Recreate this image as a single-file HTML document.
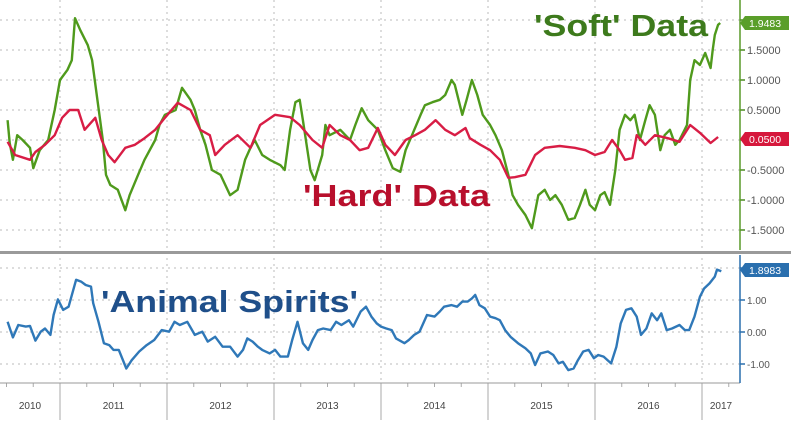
<!DOCTYPE html>
<html><head><meta charset="utf-8"><style>
html,body{margin:0;padding:0;background:#fff;}
svg{display:block;font-family:"Liberation Sans",sans-serif;}
</style></head><body>
<svg id="chart" width="791" height="424" viewBox="0 0 791 424">
<g id="grid"></g>
<g id="series"></g>
<g id="axes"></g>
<text x="534" y="36" font-size="31" font-weight="bold" fill="#3d7a1c" textLength="174" lengthAdjust="spacingAndGlyphs">'Soft' Data</text>
<text x="303" y="206" font-size="31" font-weight="bold" fill="#b80f2c" textLength="187" lengthAdjust="spacingAndGlyphs">'Hard' Data</text>
<text x="101" y="312" font-size="31" font-weight="bold" fill="#1f4f8a" textLength="257" lengthAdjust="spacingAndGlyphs">'Animal Spirits'</text>
</svg>
<script>
const softDates=[2010.51,2010.53,2010.56,2010.60,2010.65,2010.72,2010.75,2010.81,2010.89,2010.95,2011.00,2011.07,2011.11,2011.14,2011.19,2011.26,2011.30,2011.35,2011.40,2011.43,2011.47,2011.54,2011.61,2011.65,2011.73,2011.79,2011.89,2011.93,2011.98,2012.08,2012.14,2012.22,2012.26,2012.31,2012.36,2012.42,2012.50,2012.59,2012.66,2012.73,2012.78,2012.82,2012.89,2012.96,2013.06,2013.10,2013.15,2013.20,2013.24,2013.27,2013.34,2013.38,2013.45,2013.48,2013.52,2013.62,2013.71,2013.76,2013.82,2013.88,2013.97,2014.04,2014.11,2014.18,2014.23,2014.29,2014.37,2014.41,2014.48,2014.55,2014.60,2014.66,2014.69,2014.76,2014.80,2014.85,2014.90,2014.95,2015.02,2015.07,2015.13,2015.19,2015.23,2015.28,2015.35,2015.41,2015.47,2015.53,2015.58,2015.63,2015.69,2015.75,2015.81,2015.86,2015.91,2015.95,2016.00,2016.05,2016.09,2016.14,2016.19,2016.23,2016.28,2016.33,2016.37,2016.42,2016.47,2016.51,2016.56,2016.61,2016.65,2016.70,2016.75,2016.79,2016.86,2016.89,2016.93,2016.98,2017.03,2017.08,2017.10,2017.12,2017.15,2017.17];
const softValues=[0.33,-0.05,-0.33,0.08,0,-0.13,-0.47,-0.17,0,0.5,1.0,1.17,1.33,2.03,1.83,1.58,1.33,0.67,0,-0.58,-0.75,-0.83,-1.17,-0.92,-0.58,-0.33,0,0.25,0.42,0.5,0.87,0.67,0.5,0.17,-0.08,-0.5,-0.58,-0.92,-0.83,-0.33,-0.13,0,-0.25,-0.33,-0.42,-0.5,0.17,0.63,0.67,0.33,-0.5,-0.67,-0.25,0.25,0.08,0.17,0,0.25,0.53,0.33,0.17,-0.17,-0.47,-0.53,-0.17,0.08,0.42,0.58,0.63,0.67,0.75,1.0,0.92,0.42,0.67,1.0,0.75,0.42,0.25,0.08,-0.17,-0.58,-0.92,-1.08,-1.25,-1.47,-0.92,-0.83,-1.0,-0.92,-1.08,-1.33,-1.3,-1.08,-0.83,-1.08,-1.17,-0.92,-0.87,-1.08,-0.5,0.17,0.42,0.33,0.42,0,0.33,0.58,0.42,-0.17,0.08,0.17,-0.08,0,0.25,1.0,1.33,1.25,1.45,1.2,1.5,1.75,1.92,1.95];
const hardDates=[2010.51,2010.58,2010.72,2010.77,2010.86,2010.95,2011.02,2011.09,2011.17,2011.23,2011.33,2011.39,2011.45,2011.51,2011.61,2011.70,2011.79,2011.89,2011.98,2012.10,2012.22,2012.31,2012.40,2012.45,2012.54,2012.66,2012.78,2012.87,2013.01,2013.15,2013.24,2013.36,2013.45,2013.52,2013.62,2013.71,2013.80,2013.88,2013.97,2014.04,2014.13,2014.23,2014.32,2014.41,2014.51,2014.60,2014.69,2014.79,2014.83,2014.93,2015.02,2015.11,2015.19,2015.25,2015.35,2015.44,2015.53,2015.67,2015.81,2015.91,2016.00,2016.09,2016.16,2016.23,2016.28,2016.35,2016.39,2016.47,2016.56,2016.68,2016.79,2016.89,2016.98,2017.08,2017.15];
const hardValues=[-0.03,-0.25,-0.33,-0.2,-0.08,0.08,0.37,0.5,0.5,0.17,0.37,0,-0.25,-0.37,-0.13,-0.08,0.03,0.17,0.37,0.62,0.5,0.17,0.08,-0.25,-0.08,0.08,-0.13,0.25,0.42,0.38,0.25,0,-0.13,0.25,0.08,0,-0.17,-0.13,0.2,-0.08,-0.25,0,0.08,0.17,0.33,0.17,0.08,0.2,0.03,-0.08,-0.17,-0.33,-0.63,-0.62,-0.58,-0.25,-0.13,-0.1,-0.13,-0.17,-0.25,-0.2,0,-0.17,-0.33,-0.3,0.08,-0.08,0.08,0.03,-0.03,0.25,0.12,-0.05,0.05];
const spiritsDates=[2010.51,2010.56,2010.61,2010.68,2010.72,2010.77,2010.82,2010.86,2010.91,2010.94,2010.98,2011.03,2011.08,2011.15,2011.20,2011.24,2011.29,2011.31,2011.36,2011.41,2011.46,2011.50,2011.55,2011.62,2011.67,2011.74,2011.81,2011.88,2011.95,2012.02,2012.07,2012.12,2012.19,2012.26,2012.33,2012.38,2012.45,2012.52,2012.59,2012.66,2012.71,2012.75,2012.80,2012.85,2012.89,2012.96,2013.01,2013.06,2013.13,2013.17,2013.22,2013.27,2013.32,2013.36,2013.41,2013.46,2013.53,2013.58,2013.63,2013.70,2013.74,2013.81,2013.86,2013.91,2013.96,2014.00,2014.05,2014.10,2014.14,2014.22,2014.26,2014.31,2014.36,2014.43,2014.50,2014.55,2014.59,2014.66,2014.71,2014.76,2014.81,2014.85,2014.88,2014.92,2014.97,2015.02,2015.07,2015.11,2015.16,2015.21,2015.28,2015.35,2015.40,2015.44,2015.49,2015.56,2015.61,2015.66,2015.70,2015.75,2015.80,2015.84,2015.89,2015.94,2015.99,2016.03,2016.08,2016.15,2016.20,2016.24,2016.29,2016.34,2016.39,2016.43,2016.48,2016.53,2016.58,2016.62,2016.67,2016.72,2016.79,2016.84,2016.88,2016.93,2016.98,2017.02,2017.07,2017.12,2017.14,2017.18];
const spiritsValues=[0.32,-0.17,0.22,0.17,0.19,-0.27,0.01,0.11,-0.09,0.53,1.02,0.69,0.79,1.63,1.57,1.47,1.42,0.9,0.32,-0.35,-0.41,-0.56,-0.56,-1.14,-0.88,-0.61,-0.41,-0.25,0.06,0.01,0.32,0.22,0.32,-0.09,0.01,-0.3,-0.15,-0.46,-0.46,-0.77,-0.56,-0.2,-0.3,-0.46,-0.56,-0.67,-0.56,-0.77,-0.77,-0.25,0.32,-0.35,-0.56,-0.25,0.06,0.11,0.06,0.32,0.22,0.37,0.17,0.64,0.79,0.48,0.27,0.17,0.11,0.06,-0.2,-0.35,-0.25,-0.09,0.01,0.53,0.48,0.64,0.79,0.84,0.79,0.95,0.95,1.05,1.16,0.84,0.74,0.48,0.43,0.37,0.06,-0.15,-0.35,-0.51,-0.67,-1.03,-0.67,-0.61,-0.72,-0.98,-0.93,-1.19,-1.14,-0.88,-0.61,-0.56,-0.82,-0.72,-0.77,-0.98,-0.46,0.27,0.69,0.74,0.48,-0.09,0.11,0.58,0.37,0.58,0.06,0.11,0.22,0.06,0.06,0.48,1.1,1.36,1.52,1.73,1.95,1.9];
const topTicks=[2.0,1.5,1.0,0.5,0.0,-0.5,-1.0,-1.5];
const topTickLabels=["","1.5000","1.0000","0.5000","","-0.5000","-1.0000","-1.5000"];
const botTicks=[2.0,1.0,0.0,-1.0];
const botTickLabels=["","1.00","0.00","-1.00"];
const years=[2010,2011,2012,2013,2014,2015,2016,2017];
const lastLabels=["1.9483","0.0500","1.8983"];

const NS="http://www.w3.org/2000/svg";
const xS=t=>60+(t-2011)*107;
const yTop=v=>140-60*v;
const yBot=v=>332-32*v;
const AX=740;
function mk(tag,attrs,parent){const e=document.createElementNS(NS,tag);for(const k in attrs)e.setAttribute(k,attrs[k]);parent.appendChild(e);return e;}
const grid=document.getElementById('grid'),series=document.getElementById('series'),axes=document.getElementById('axes');

topTicks.forEach((v,i)=>{
  const l=mk('line',{x1:0,x2:AX,y1:yTop(v),y2:yTop(v),stroke:'#bbb','stroke-dasharray':'2,4','stroke-width':1},grid);
  
  
  mk('line',{x1:AX,x2:AX+5,y1:yTop(v),y2:yTop(v),stroke:'#4a8a20','stroke-width':1.5},axes);
  if(topTickLabels[i]){const t=mk('text',{x:AX+7,y:yTop(v)+4,'font-size':11,fill:'#555'},axes);t.textContent=topTickLabels[i];
  
  }
});
botTicks.forEach((v,i)=>{
  const l=mk('line',{x1:0,x2:AX,y1:yBot(v),y2:yBot(v),stroke:'#bbb','stroke-dasharray':'2,4','stroke-width':1},grid);
  
  
  mk('line',{x1:AX,x2:AX+5,y1:yBot(v),y2:yBot(v),stroke:'#2a6fae','stroke-width':1.5},axes);
  if(botTickLabels[i]){const t=mk('text',{x:AX+7,y:yBot(v)+4,'font-size':10,fill:'#555'},axes);t.textContent=botTickLabels[i];
  
  }
});
years.forEach((y,i)=>{
  if(i>0){
    const x=xS(y);
    const g=mk('line',{x1:x,x2:x,y1:0,y2:383,stroke:'#bbb','stroke-dasharray':'2,4','stroke-width':1},grid);
    
    
    mk('line',{x1:x,x2:x,y1:383,y2:420,stroke:'#aaa','stroke-width':1},axes);
  }
  const x0=Math.max(xS(y),0),x1=Math.min(xS(y+1),AX);
  const t=mk('text',{x:(x0+x1)/2,y:409,'font-size':10,fill:'#444','text-anchor':'middle'},axes);
  t.textContent=y;
  
  
});
for(let q=2010.5;q<2017.3;q+=0.25){mk('line',{x1:xS(q),x2:xS(q),y1:383,y2:387,stroke:'#aaa'},axes);}
mk('line',{x1:0,x2:AX,y1:383,y2:383,stroke:'#999','stroke-width':1},axes);
mk('line',{x1:AX,x2:AX,y1:0,y2:250,stroke:'#5a9a2a','stroke-width':1.5},axes);
mk('line',{x1:AX,x2:AX,y1:255,y2:383,stroke:'#2a6fae','stroke-width':1.5},axes);
const div=mk('rect',{x:0,y:251,width:791,height:3,fill:'#9a9a9a'},axes);



function line(dates,vals,ys,color,name){
  const d=dates.map((t,i)=>(i?'L':'M')+xS(t).toFixed(1)+','+ys(vals[i]).toFixed(1)).join('');
  const p=mk('path',{d:d,fill:'none',stroke:color,'stroke-width':2.4,'stroke-linejoin':'round'},series);
  
  
}
line(softDates,softValues,yTop,'#4f9a1c','soft-data-line');
line(hardDates,hardValues,yTop,'#d81d45','hard-data-line');
line(spiritsDates,spiritsValues,yBot,'#2f78b8','animal-spirits-line');

function tag(yc,color,txt,name){
  const g=mk('g',{},axes);
  
  
  mk('path',{d:`M${AX},${yc} L${AX+5},${yc-7} L789,${yc-7} L789,${yc+7} L${AX+5},${yc+7} Z`,fill:color},g);
  const t=mk('text',{x:AX+9,y:yc+4,'font-size':10.5,fill:'#fff'},g);t.textContent=txt;
}
tag(23,'#5a9e2a',lastLabels[0],'soft-last-value-tag');
tag(139,'#d6183c',lastLabels[1],'hard-last-value-tag');
tag(270,'#2a6fae',lastLabels[2],'spirits-last-value-tag');
</script>
</body></html>
